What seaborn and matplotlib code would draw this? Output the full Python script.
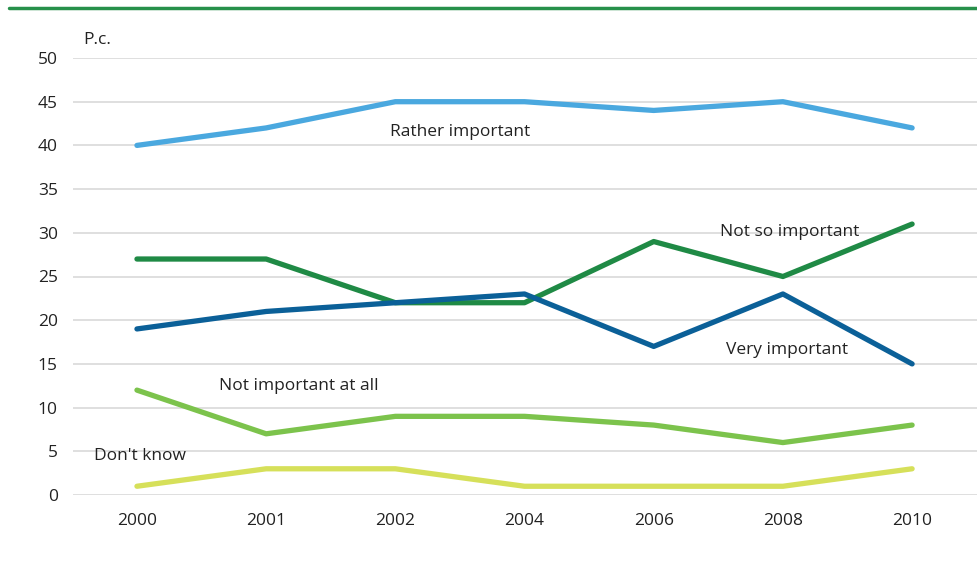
import matplotlib
matplotlib.use("Agg")
import matplotlib.pyplot as plt
import seaborn as sns
import pandas as pd

years = ["2000", "2001", "2002", "2004", "2006", "2008", "2010"]
rather_important = [40, 42, 45, 45, 44, 45, 42]
not_so_important = [27, 27, 22, 22, 29, 25, 31]
very_important = [19, 21, 22, 23, 17, 23, 15]
not_important_at_all = [12, 7, 9, 9, 8, 6, 8]
dont_know = [1, 3, 3, 1, 1, 1, 3]

series = {
    "Rather important": rather_important,
    "Not so important": not_so_important,
    "Very important": very_important,
    "Not important at all": not_important_at_all,
    "Don't know": dont_know,
}
colors = {
    "Rather important": "#4aa8df",
    "Not so important": "#1f8a45",
    "Very important": "#0b6098",
    "Not important at all": "#7cc34c",
    "Don't know": "#d6e05a",
}

rows = []
for name, vals in series.items():
    for i, (y, v) in enumerate(zip(years, vals)):
        rows.append({"pos": i, "year": y, "value": v, "series": name})
df = pd.DataFrame(rows)

sns.set_style("white")
plt.rcParams["font.family"] = ["Open Sans", "DejaVu Sans"]

fig = plt.figure(figsize=(9.78, 5.62), dpi=100)
ax = fig.add_axes([73 / 978, 1 - 495 / 562, (978 - 73) / 978, (495 - 58) / 562])

for y in range(0, 51, 5):
    ax.axhline(y, color="#dcdcdc", lw=1.3, zorder=0)

sns.lineplot(data=df, x="pos", y="value", hue="series", palette=colors,
             linewidth=3.8, ax=ax, legend=False, sort=False)
for line in ax.get_lines():
    line.set_solid_capstyle("round")
    line.set_solid_joinstyle("round")

ax.set_xlim(-0.495, 6.51)
ax.set_ylim(0, 50)
ax.set_xticks(range(len(years)))
ax.set_xticklabels(years)
ax.set_yticks(range(0, 51, 5))
ax.set_xlabel("")
ax.set_ylabel("")
for s in ax.spines.values():
    s.set_visible(False)
ax.tick_params(axis="both", length=0, labelsize=12.5, labelcolor="#222222")
ax.tick_params(axis="y", pad=11)
ax.tick_params(axis="x", pad=13)

txt = dict(fontsize=12.5, color="#222222", ha="center", va="center")
ax.text(2.5, 41.5, "Rather important", **txt)
ax.text(5.05, 30.1, "Not so important", **txt)
ax.text(5.03, 16.6, "Very important", **txt)
ax.text(1.25, 12.5, "Not important at all", **txt)
ax.text(0.02, 4.5, "Don't know", **txt)

fig.text(83 / 978, 1 - 40 / 562, "P.c.", fontsize=12.5, color="#222222",
         ha="left", va="center")

fig.add_artist(plt.Line2D([9 / 978, 1], [1 - 8 / 562, 1 - 8 / 562],
                          color="#27904a", lw=2.5, transform=fig.transFigure))

fig.savefig("out.png", dpi=100)
